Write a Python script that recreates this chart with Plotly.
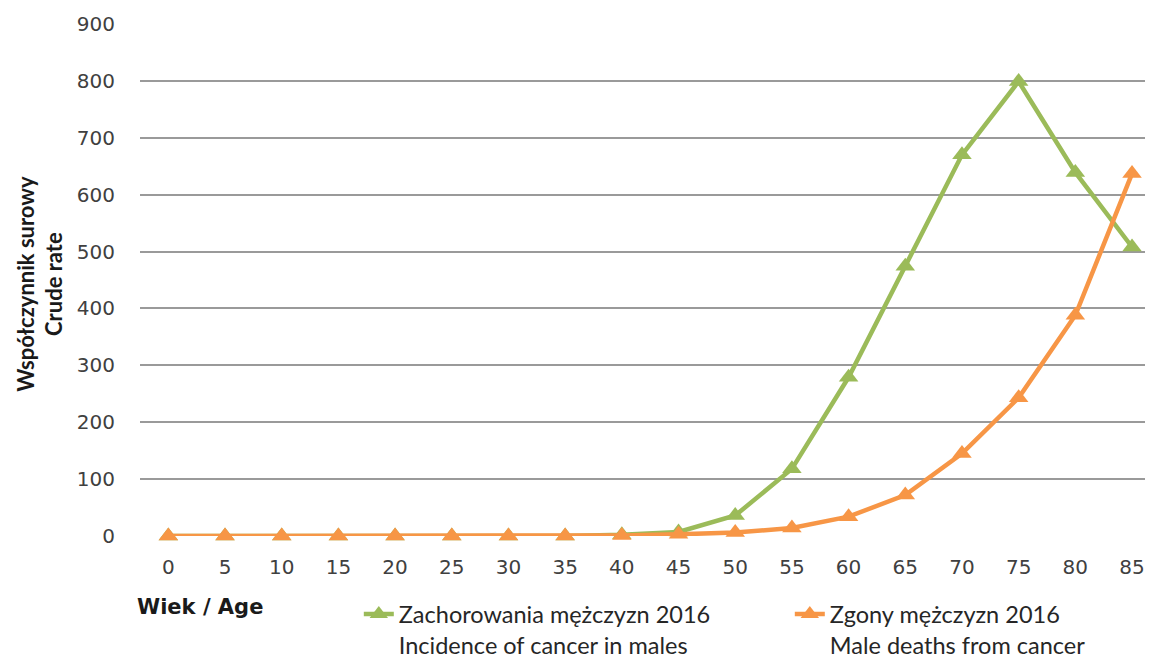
import plotly.graph_objects as go

ages = ["0", "5", "10", "15", "20", "25", "30", "35", "40", "45", "50", "55", "60", "65", "70", "75", "80", "85"]
incidence = [0, 0, 0, 0, 0, 0, 0, 0, 2, 7, 36, 118, 279, 474, 670, 799, 639, 508]
deaths = [0, 0, 0, 0, 0, 0, 0, 0, 1, 3, 6, 14, 34, 72, 145, 243, 388, 637]
y_ticks = [0, 100, 200, 300, 400, 500, 600, 700, 800, 900]

idx = list(range(len(ages)))
green = "#9BBB59"
orange = "#F79646"

fig = go.Figure()
fig.add_trace(go.Scatter(
    x=idx, y=incidence, mode="lines+markers",
    name="Zachorowania mężczyzn 2016<br>Incidence of cancer in males",
    line=dict(color=green, width=4.5),
    marker=dict(symbol="triangle-up", size=17, color=green),
    cliponaxis=False,
))
fig.add_trace(go.Scatter(
    x=idx, y=deaths, mode="lines+markers",
    name="Zgony mężczyzn 2016<br>Male deaths from cancer",
    line=dict(color=orange, width=4.5),
    marker=dict(symbol="triangle-up", size=17, color=orange),
    cliponaxis=False,
))

# page has an 8px body margin, so the figure is sized to fill the rest of the window
fig.update_layout(
    width=1145, height=653,
    margin=dict(l=132, r=0, t=16, b=125, autoexpand=False),
    paper_bgcolor="white", plot_bgcolor="white",
    font=dict(family="DejaVu Sans, Verdana, sans-serif", color="#404040"),
    showlegend=True,
    legend=dict(
        orientation="h", x=0.216, xanchor="left", y=-0.110, yanchor="top",
        font=dict(family="Lato, Open Sans, sans-serif", size=23.5, color="#262626"),
        entrywidth=386, entrywidthmode="pixels", valign="top",
        itemwidth=30, tracegroupgap=0, bgcolor="rgba(0,0,0,0)",
    ),
    xaxis=dict(
        range=[-0.5, 17.37],
        tickmode="array", tickvals=idx, ticktext=ages,
        tickfont=dict(size=20, color="#404040"),
        ticklabelstandoff=17,
        showgrid=False, zeroline=False, showline=False, ticks="",
        automargin=False,
    ),
    yaxis=dict(
        range=[0, 900],
        tickmode="array", tickvals=y_ticks,
        tickfont=dict(size=20, color="#404040"),
        ticklabelstandoff=24,
        showgrid=True, gridcolor="#9A9A9A", gridwidth=2,
        zeroline=False, showline=False, ticks="",
        automargin=False,
    ),
)

fig.add_annotation(
    text="<b>Współczynnik surowy<br>Crude rate</b>", xref="paper", yref="paper",
    x=-0.099, y=0.492, xanchor="center", yanchor="middle", textangle=-90,
    showarrow=False,
    font=dict(family="Lato, Open Sans, sans-serif", size=22, color="#1a1a1a"),
)

fig.add_annotation(
    text="<b>Wiek / Age</b>", xref="paper", yref="paper",
    x=-0.005, y=-0.139, xanchor="left", yanchor="middle", showarrow=False,
    font=dict(family="DejaVu Sans, Verdana, sans-serif", size=21, color="#1a1a1a"),
)

fig.write_html("out.html")
